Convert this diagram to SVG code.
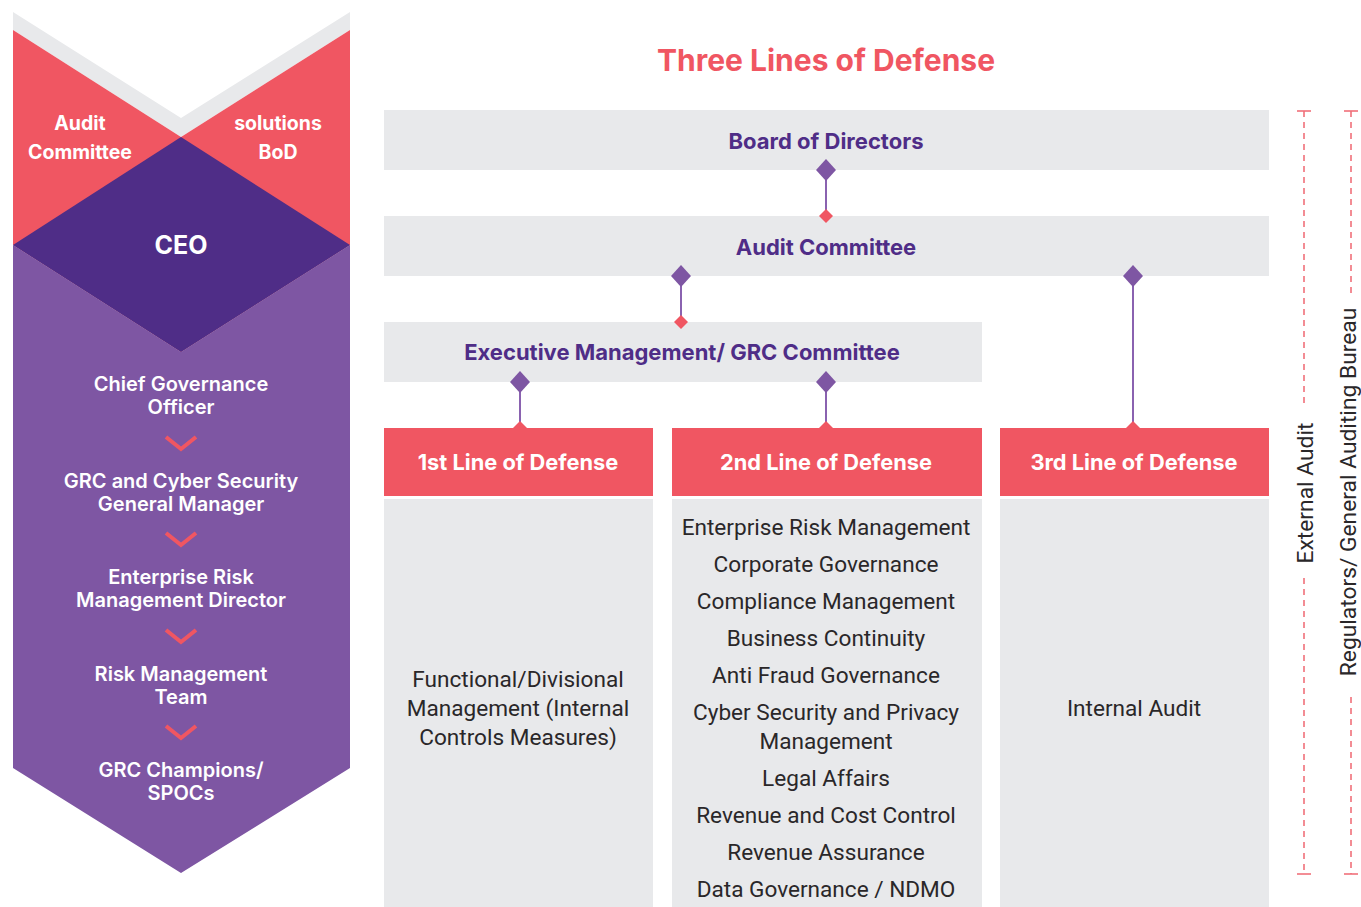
<svg xmlns="http://www.w3.org/2000/svg" width="1361" height="907" viewBox="0 0 1361 907">
<style>
.lp{font-family:Inter,"Noto Sans",sans-serif;font-weight:600;font-size:20px;fill:#fff;text-anchor:middle}
.tp{font-family:Inter,"Noto Sans",sans-serif;font-weight:700;font-size:19.5px;fill:#fff;text-anchor:middle}
.hd{font-family:Inter,"Noto Sans",sans-serif;font-weight:700;font-size:22px;fill:#4F2D87;text-anchor:middle}
.lh{font-family:Inter,"Noto Sans",sans-serif;font-weight:700;font-size:21.8px;fill:#fff;text-anchor:middle}
.bd{font-family:Roboto,"Noto Sans",sans-serif;font-weight:400;font-size:22.6px;fill:#2A2729;text-anchor:middle}
.side{font-family:Roboto,"Noto Sans",sans-serif;font-weight:400;font-size:22.8px;fill:#2A2729;text-anchor:middle}
.gray{fill:#E8E9EB}
.red{fill:#F05662}
.chev{fill:none;stroke:#F05662;stroke-width:4}
.conn{stroke:#8A62B0;stroke-width:2;fill:none}
.dia{fill:#7E56A3}
.rd{fill:#F05662}
.dash{stroke:#F0707A;stroke-width:1.6;stroke-dasharray:6 5;fill:none}
.tick{stroke:#F0707A;stroke-width:1.6}
</style>
<rect width="1361" height="907" fill="#fff"/>
<g id="left-panel">
  <polygon points="13,12 181,118 350,12 350,30 181,137 13,30" class="gray"/>
  <polygon points="13,30 181,137 350,30 350,245 181,352 13,245" class="red"/>
  <polygon points="13,245 181,352 350,245 350,768 181,873 13,768" fill="#7E56A3"/>
  <polygon points="181,137 350,245 181,352 13,245" fill="#4F2D87"/>
  <text class="tp" x="80" y="130">Audit</text>
  <text class="tp" x="80" y="159">Committee</text>
  <text class="tp" x="278" y="130">solutions</text>
  <text class="tp" x="278" y="159">BoD</text>
  <text class="lp" x="181" y="254" style="font-size:25px;font-weight:700">CEO</text>
  <text class="lp" x="181" y="391">Chief Governance</text>
  <text class="lp" x="181" y="414">Officer</text>
  <polyline class="chev" points="166,437 181,449 196,437"/>
  <text class="lp" x="181" y="488">GRC and Cyber Security</text>
  <text class="lp" x="181" y="511">General Manager</text>
  <polyline class="chev" points="166,533 181,545 196,533"/>
  <text class="lp" x="181" y="584">Enterprise Risk</text>
  <text class="lp" x="181" y="607">Management Director</text>
  <polyline class="chev" points="166,630 181,642 196,630"/>
  <text class="lp" x="181" y="681">Risk Management</text>
  <text class="lp" x="181" y="704">Team</text>
  <polyline class="chev" points="166,726 181,738 196,726"/>
  <text class="lp" x="181" y="777">GRC Champions/</text>
  <text class="lp" x="181" y="800">SPOCs</text>
</g>
<text id="title" x="826" y="71" style="font-family:Inter,'Noto Sans',sans-serif;font-weight:700;font-size:30px;fill:#F05662;text-anchor:middle">Three Lines of Defense</text>
<g id="board">
  <rect class="gray" x="384" y="110" width="885" height="60"/>
  <text class="hd" x="826" y="149">Board of Directors</text>
</g>
<g id="audit-committee">
  <rect class="gray" x="384" y="216" width="885" height="60"/>
  <text class="hd" x="826" y="255">Audit Committee</text>
</g>
<g id="exec-mgmt">
  <rect class="gray" x="384" y="322" width="598" height="60"/>
  <text class="hd" x="682" y="360">Executive Management/ GRC Committee</text>
</g>
<g id="line1">
  <rect class="red" x="384" y="428" width="269" height="68"/>
  <text class="lh" x="518" y="470">1st Line of Defense</text>
  <rect class="gray" x="384" y="499" width="269" height="410"/>
  <text class="bd" x="518" y="687">Functional/Divisional</text>
  <text class="bd" x="518" y="716">Management (Internal</text>
  <text class="bd" x="518" y="745">Controls Measures)</text>
</g>
<g id="line2">
  <rect class="red" x="672" y="428" width="310" height="68"/>
  <text class="lh" x="826" y="470">2nd Line of Defense</text>
  <rect class="gray" x="672" y="499" width="310" height="410"/>
  <text class="bd" x="826" y="535">Enterprise Risk Management</text>
  <text class="bd" x="826" y="572">Corporate Governance</text>
  <text class="bd" x="826" y="609">Compliance Management</text>
  <text class="bd" x="826" y="646">Business Continuity</text>
  <text class="bd" x="826" y="683">Anti Fraud Governance</text>
  <text class="bd" x="826" y="720">Cyber Security and Privacy</text>
  <text class="bd" x="826" y="749">Management</text>
  <text class="bd" x="826" y="786">Legal Affairs</text>
  <text class="bd" x="826" y="823">Revenue and Cost Control</text>
  <text class="bd" x="826" y="860">Revenue Assurance</text>
  <text class="bd" x="826" y="897">Data Governance / NDMO</text>
</g>
<g id="line3">
  <rect class="red" x="1000" y="428" width="269" height="68"/>
  <text class="lh" x="1134" y="470">3rd Line of Defense</text>
  <rect class="gray" x="1000" y="499" width="269" height="410"/>
  <text class="bd" x="1134" y="716">Internal Audit</text>
</g>
<g id="connectors">
  <line class="conn" x1="826" y1="170" x2="826" y2="216"/>
  <line class="conn" x1="681" y1="276" x2="681" y2="322"/>
  <line class="conn" x1="1133" y1="276" x2="1133" y2="428"/>
  <line class="conn" x1="520" y1="382" x2="520" y2="428"/>
  <line class="conn" x1="826" y1="382" x2="826" y2="428"/>
  <polygon class="dia" points="826,159 836,170 826,181 816,170"/>
  <polygon class="dia" points="681,265 691,276 681,287 671,276"/>
  <polygon class="dia" points="1133,265 1143,276 1133,287 1123,276"/>
  <polygon class="dia" points="520,371 530,382 520,393 510,382"/>
  <polygon class="dia" points="826,371 836,382 826,393 816,382"/>
  <polygon class="rd" points="826,209 833,216 826,223 819,216"/>
  <polygon class="rd" points="681,315 688,322 681,329 674,322"/>
  <polygon class="rd" points="520,421 527,428 513,428"/>
  <polygon class="rd" points="826,421 833,428 819,428"/>
  <polygon class="rd" points="1133,421 1140,428 1126,428"/>
</g>
<g id="external-audit">
  <line class="tick" x1="1297" y1="111" x2="1311" y2="111"/>
  <line class="tick" x1="1297" y1="874" x2="1311" y2="874"/>
  <line class="dash" x1="1304" y1="111" x2="1304" y2="405"/>
  <line class="dash" x1="1304" y1="578" x2="1304" y2="874"/>
  <text class="side" transform="translate(1313,493) rotate(-90)">External Audit</text>
</g>
<g id="regulators">
  <line class="tick" x1="1344" y1="111" x2="1358" y2="111"/>
  <line class="tick" x1="1344" y1="874" x2="1358" y2="874"/>
  <line class="dash" x1="1351" y1="111" x2="1351" y2="295"/>
  <line class="dash" x1="1351" y1="697" x2="1351" y2="874"/>
  <text class="side" transform="translate(1356,492) rotate(-90)">Regulators/ General Auditing Bureau</text>
</g>
</svg>
